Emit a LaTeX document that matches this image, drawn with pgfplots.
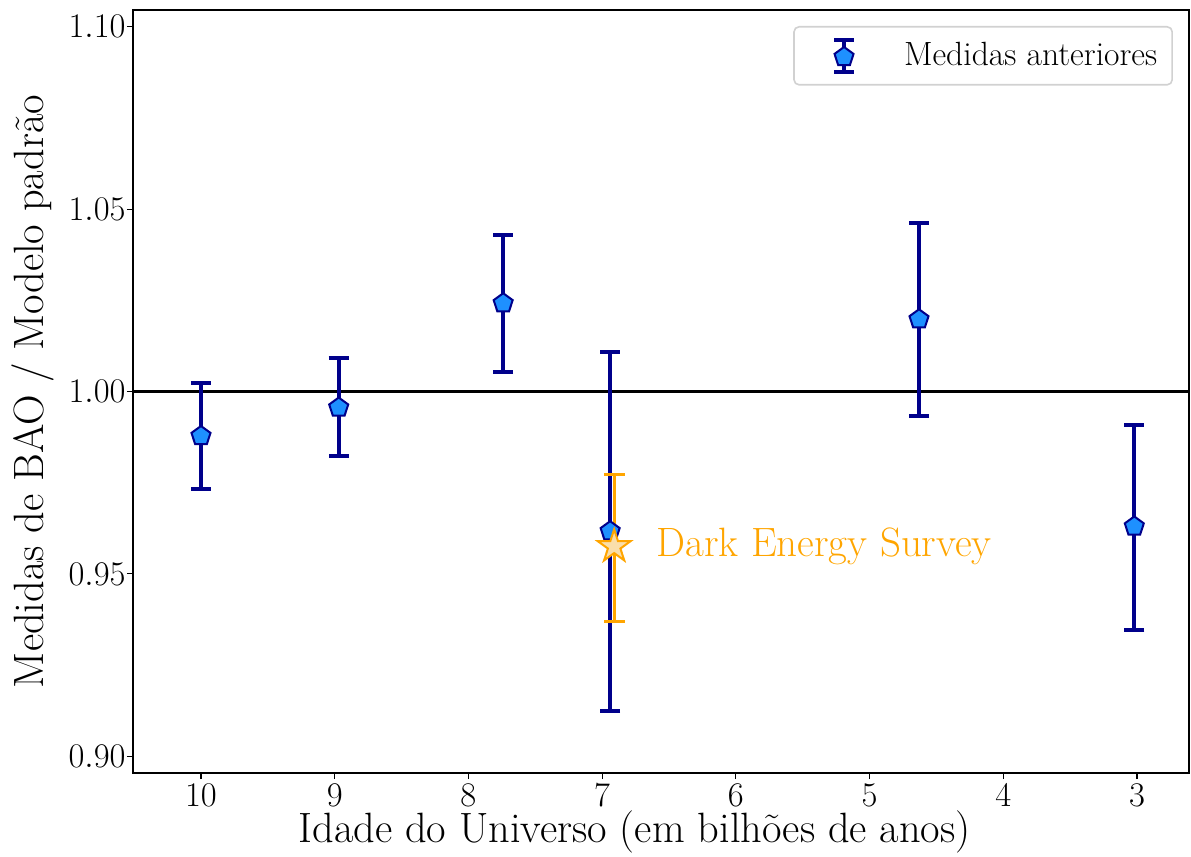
\documentclass[border=0pt]{standalone}
\usepackage{pgfplots}
\pgfplotsset{compat=1.18}
\usepackage{pgfplotstable}
\definecolor{navyb}{RGB}{0,0,139}
\definecolor{dodger}{RGB}{30,144,255}
\definecolor{orng}{RGB}{255,165,0}
\definecolor{wheatc}{RGB}{250,222,170}
\pgfdeclareplotmark{fstar}{%
  \pgfpathmoveto{\pgfpointpolar{90}{\pgfplotmarksize}}%
  \pgfpathlineto{\pgfpointpolar{126}{0.382\pgfplotmarksize}}%
  \pgfpathlineto{\pgfpointpolar{162}{\pgfplotmarksize}}%
  \pgfpathlineto{\pgfpointpolar{198}{0.382\pgfplotmarksize}}%
  \pgfpathlineto{\pgfpointpolar{234}{\pgfplotmarksize}}%
  \pgfpathlineto{\pgfpointpolar{270}{0.382\pgfplotmarksize}}%
  \pgfpathlineto{\pgfpointpolar{306}{\pgfplotmarksize}}%
  \pgfpathlineto{\pgfpointpolar{342}{0.382\pgfplotmarksize}}%
  \pgfpathlineto{\pgfpointpolar{18}{\pgfplotmarksize}}%
  \pgfpathlineto{\pgfpointpolar{54}{0.382\pgfplotmarksize}}%
  \pgfpathclose
  \pgfusepathqfillstroke}
\pgfplotstableread{
x y ep em
10.0 0.9878 0.0145 0.0144
8.97 0.9956 0.0137 0.0132
7.74 1.0242 0.0186 0.0189
6.94 0.9617 0.0491 0.0494
4.63 1.0198 0.0263 0.0264
3.02 0.9630 0.0277 0.0283
}\prevdata
\pgfplotstableread{
x y ep em
6.91 0.9575 0.0197 0.0205
}\desdata
\begin{document}
\begin{tikzpicture}
\begin{axis}[
  width=528pt, height=381.5pt, scale only axis,
  x dir=reverse,
  xmin=2.611, xmax=10.5086, ymin=0.8954, ymax=1.1046,
  xtick={3,4,5,6,7,8,9,10},
  ytick={0.9,0.95,1.0,1.05,1.1},
  yticklabel style={/pgf/number format/fixed, /pgf/number format/fixed zerofill, /pgf/number format/precision=2, inner sep=0pt, xshift=-0.5pt},
  tick align=outside, major tick length=3pt,
  xtick pos=bottom, ytick pos=left,
  tick style={black, line width=0.6pt},
  axis line style={line width=0.6pt},
  tick label style={font=\fontsize{17.28}{20}\selectfont},
  xticklabel style={inner sep=0pt, yshift=-2.2pt},
  xlabel={Idade do Universo (em bilhões de anos)},
  ylabel={Medidas de BAO / Modelo padrão},
  label style={font=\fontsize{21.2}{25}\selectfont},
  xlabel style={at={(axis description cs:0.475,-0.0905)}, anchor=base, inner sep=0pt},
  ylabel style={at={(axis description cs:-0.0852,0.5)}, anchor=base, inner sep=0pt},
  legend style={at={(1,1)}, anchor=north east, xshift=-8pt, yshift=-8pt,
    draw=black!18, line width=0.8pt, rounded corners=2.5pt,
    inner xsep=7.5pt, inner ysep=5.5pt,
    font=\fontsize{16.8}{20}\selectfont, nodes={inner sep=0pt}},
  legend cell align=left,
]
\addplot[black, line width=1.2pt, forget plot] coordinates {(11,1.0) (2,1.0)};
\addplot[navyb, only marks, mark=pentagon*, mark size=5pt,
  mark options={fill=dodger, draw=navyb, line width=1pt},
  legend image code/.code={
    \path[draw=none, fill=none] (0pt,-9pt) rectangle (47.5pt,9pt);
    \draw[navyb, line width=2pt, rounded corners=0pt] (17.5pt,-8pt) -- (17.5pt,8pt);
    \draw[navyb, line width=2pt, rounded corners=0pt] (12.5pt,-8pt) -- (22.5pt,-8pt);
    \draw[navyb, line width=2pt, rounded corners=0pt] (12.5pt,8pt) -- (22.5pt,8pt);
    \draw[navyb, fill=dodger, line width=1pt, rounded corners=0pt] plot[mark=pentagon*, mark size=5pt] coordinates {(17.5pt,-0.6pt)};
  },
  error bars/.cd, y dir=both, y explicit,
  error bar style={line width=2pt, navyb},
  error mark options={rotate=90, line width=2pt, mark size=5pt, navyb},
] table[x=x, y=y, y error plus=ep, y error minus=em] {\prevdata};
\addlegendentry{Medidas anteriores}
\addplot[orng, only marks, mark=fstar, mark size=8.6pt,
  mark options={fill=wheatc, draw=orng, line width=1pt},
  forget plot,
  error bars/.cd, y dir=both, y explicit,
  error bar style={line width=1.5pt, orng},
  error mark options={rotate=90, line width=1.5pt, mark size=5.2pt, orng},
] table[x=x, y=y, y error plus=ep, y error minus=em] {\desdata};
\node[font=\fontsize{20.5}{24}\selectfont, text=orng, anchor=west, inner sep=0pt, xshift=21pt] at (axis cs:6.91,0.9575) {Dark Energy Survey};
\end{axis}
\path ([xshift=-66.5pt,yshift=-41.5pt]current axis.south west);
\path ([xshift=1pt,yshift=5pt]current axis.north east);
\end{tikzpicture}
\end{document}
